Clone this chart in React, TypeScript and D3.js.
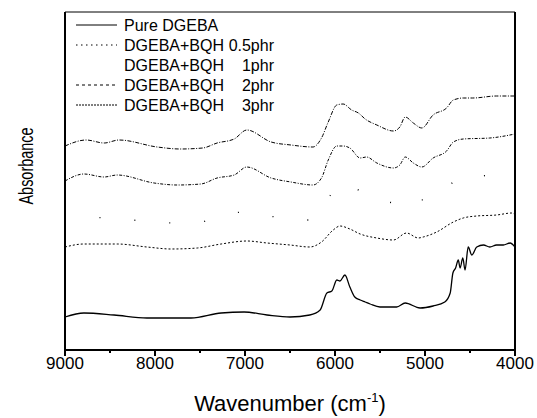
import React from "react";
import * as d3 from "d3";

const wnPure = [9000, 8790, 8455, 8090, 7600, 7265, 7010, 6755, 6500, 6280, 6165, 6090, 6035, 5980, 5945, 5890, 5835, 5780, 5720, 5665, 5610, 5500, 5315, 5220, 5055, 4910, 4780, 4720, 4690, 4660, 4630, 4610, 4580, 4555, 4520, 4480, 4425, 4350, 4280, 4205, 4130, 4055, 4000];
const absPure = [0.33, 0.37, 0.35, 0.32, 0.32, 0.37, 0.38, 0.35, 0.33, 0.35, 0.40, 0.57, 0.59, 0.70, 0.69, 0.75, 0.63, 0.53, 0.50, 0.48, 0.46, 0.43, 0.43, 0.47, 0.42, 0.44, 0.48, 0.57, 0.77, 0.82, 0.90, 0.82, 0.92, 0.80, 1.03, 0.95, 1.03, 1.05, 1.03, 1.05, 1.05, 1.07, 1.03];

const wn05 = [9000, 8790, 8420, 8090, 7820, 7530, 7265, 6980, 6755, 6500, 6280, 6150, 6020, 5945, 5835, 5720, 5535, 5350, 5205, 5075, 5020, 4870, 4685, 4575, 4425, 4205, 4035, 4000];
const abs05 = [1.03, 1.06, 1.06, 1.03, 1.01, 1.02, 1.06, 1.09, 1.07, 1.05, 1.03, 1.08, 1.20, 1.24, 1.21, 1.16, 1.12, 1.10, 1.17, 1.12, 1.13, 1.18, 1.28, 1.32, 1.34, 1.35, 1.37, 1.35];

const wn1 = [9000, 8790, 8700, 8500, 8000, 7800, 7500, 7250, 7000, 6750, 6500, 6300, 6150, 6050, 5950, 5850, 5700, 5500, 5300, 5200, 5050, 4900, 4750, 4700, 4650, 4400, 4200, 4000];
const abs1 = [1.32, 1.35, 1.33, 1.32, 1.28, 1.27, 1.28, 1.35, 1.38, 1.34, 1.32, 1.30, 1.38, 1.55, 1.66, 1.65, 1.58, 1.50, 1.47, 1.54, 1.50, 1.53, 1.62, 1.67, 1.72, 1.74, 1.75, 1.78];

const wn2 = [9000, 8790, 8565, 8420, 8010, 7755, 7490, 7310, 7120, 6980, 6710, 6490, 6245, 6150, 6075, 5980, 5910, 5835, 5720, 5650, 5535, 5350, 5280, 5220, 5130, 5035, 4910, 4760, 4685, 4575, 4280, 4000];
const abs2 = [1.69, 1.76, 1.73, 1.75, 1.67, 1.65, 1.66, 1.72, 1.75, 1.83, 1.72, 1.68, 1.65, 1.72, 1.90, 2.04, 2.04, 2.02, 1.92, 1.93, 1.87, 1.82, 1.85, 1.93, 1.87, 1.83, 1.92, 1.99, 2.08, 2.11, 2.12, 2.16];

const wn3 = [9000, 8765, 8565, 8400, 7975, 7720, 7470, 7310, 7120, 6980, 6710, 6490, 6245, 6150, 6075, 5980, 5910, 5815, 5740, 5665, 5535, 5350, 5280, 5220, 5130, 5035, 4910, 4760, 4685, 4575, 4470, 4205, 4000];
const abs3 = [2.04, 2.10, 2.07, 2.10, 2.03, 2.01, 2.02, 2.07, 2.11, 2.20, 2.08, 2.05, 2.03, 2.12, 2.28, 2.45, 2.46, 2.40, 2.37, 2.31, 2.25, 2.19, 2.23, 2.33, 2.27, 2.22, 2.35, 2.42, 2.50, 2.52, 2.52, 2.54, 2.54];

const xTicks = [9000, 8000, 7000, 6000, 5000, 4000];
const xMinorTicks = [8500, 7500, 6500, 5500, 4500];

const seriesNames = ["Pure DGEBA", "DGEBA+BQH", "DGEBA+BQH", "DGEBA+BQH", "DGEBA+BQH"];
const seriesConc = ["", "0.5phr", "1phr", "2phr", "3phr"];

const styles = [
  { dash: "none", width: 1.3, legendDash: "none", legendOffset: 0 },
  { dash: "2,2", width: 1, legendDash: "1.5,3.5", legendOffset: 0 },
  { dash: "1,34", width: 1.3, legendDash: "1,80", legendOffset: 2 },
  { dash: "3,1.5,1,1.5", width: 1, legendDash: "3,3", legendOffset: 0 },
  { dash: "4,1.5,1,1.5", width: 1, legendDash: "2,1", legendOffset: 0 },
];

export default function App() {
  const W = 537, H = 418;
  const L = 65, R = 515, T = 12, B = 350;
  const x = d3.scaleLinear().domain([9000, 4000]).range([L, R]);
  const y = d3.scaleLinear().domain([0, 3.38]).range([B, T]);
  const line = d3
    .line<[number, number]>()
    .x((d) => x(d[0]))
    .y((d) => y(d[1]))
    .curve(d3.curveMonotoneX);

  const series: [number, number][][] = [
    wnPure.map((w, i) => [w, absPure[i]]),
    wn05.map((w, i) => [w, abs05[i]]),
    wn1.map((w, i) => [w, abs1[i]]),
    wn2.map((w, i) => [w, abs2[i]]),
    wn3.map((w, i) => [w, abs3[i]]),
  ];

  const font = "'Liberation Sans', Arial, sans-serif";

  return (
    <svg width={W} height={H} style={{ position: "absolute", left: 0, top: 0, background: "#fff" }} fontFamily={font}>
      <rect x={0} y={0} width={W} height={H} fill="#fff" />
      {series.map((d, i) => (
        <path
          key={i}
          d={line(d) || ""}
          fill="none"
          stroke="#000"
          strokeWidth={styles[i].width}
          strokeDasharray={styles[i].dash}
        />
      ))}
      {/* frame */}
      <line x1={L} y1={T} x2={R} y2={T} stroke="#000" strokeWidth={1} />
      <line x1={L} y1={T} x2={L} y2={B} stroke="#000" strokeWidth={2} />
      <line x1={R} y1={T} x2={R} y2={B} stroke="#000" strokeWidth={2} />
      <line x1={L - 1} y1={B} x2={R + 1} y2={B} stroke="#000" strokeWidth={2} />
      {xTicks.map((t) => (
        <g key={t}>
          <line x1={x(t)} y1={B} x2={x(t)} y2={B + 6} stroke="#000" strokeWidth={2} />
          <text x={x(t)} y={369} fontSize={17} textAnchor="middle" fill="#000">
            {t}
          </text>
        </g>
      ))}
      {xMinorTicks.map((t) => (
        <line key={t} x1={x(t)} y1={B} x2={x(t)} y2={B + 3} stroke="#000" strokeWidth={2} />
      ))}
      <text x={(L + R) / 2} y={411} fontSize={22} textAnchor="middle" fill="#000">
        Wavenumber (cm<tspan dy={-9} fontSize={13}>-1</tspan>
        <tspan dy={9}>)</tspan>
      </text>
      <text
        transform={`translate(33, 166) rotate(-90)`}
        fontSize={21}
        textAnchor="middle"
        fill="#000"
        textLength={77}
        lengthAdjust="spacingAndGlyphs"
      >
        Absorbance
      </text>
      {/* legend */}
      {seriesNames.map((n, i) => {
        const cy = 25 + i * 20;
        return (
          <g key={i}>
            <line
              x1={76}
              x2={117}
              y1={cy}
              y2={cy}
              stroke="#000"
              strokeWidth={1}
              strokeDasharray={styles[i].legendDash}
              strokeDashoffset={styles[i].legendOffset}
            />
            <text x={124} y={cy + 6} fontSize={16} fill="#000">
              {n}
            </text>
            {seriesConc[i] && (
              <text x={274} y={cy + 6} fontSize={16} fill="#000" textAnchor="end">
                {seriesConc[i]}
              </text>
            )}
          </g>
        );
      })}
    </svg>
  );
}
